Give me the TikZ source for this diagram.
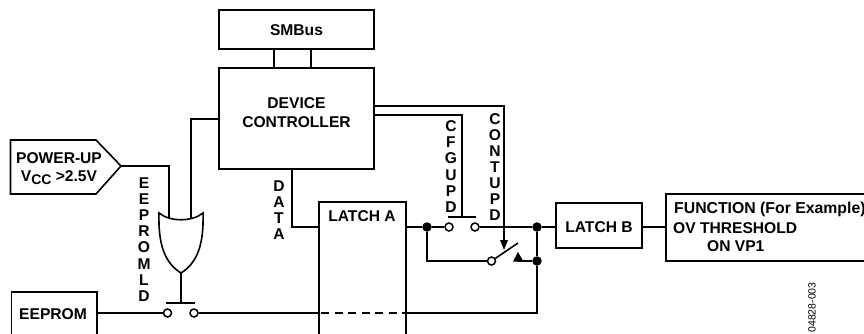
\documentclass[tikz,border=0pt]{standalone}
\usepackage{fontspec}
\setmainfont{Liberation Sans}
\usetikzlibrary{shapes.geometric,calc,positioning,arrows.meta}
\tikzset{
    wire/.style={line width=1.6pt},
    blockbox/.style={draw,line width=1.6pt,fill=white,inner sep=0pt},
    blocktext/.style={inner sep=0pt,align=center,font=\fontsize{15.6}{19}\selectfont\bfseries},
    vlabel/.style={inner sep=0pt,align=center,font=\fontsize{15.6}{16.1}\selectfont\bfseries},
    contact/.style={circle,draw,line width=1.5pt,fill=white,minimum size=8pt,inner sep=0pt},
    joint/.style={circle,fill=black,minimum size=9.5pt,inner sep=0pt}
}
\begin{document}
\begin{tikzpicture}[x=1pt,y=-1pt]
    \useasboundingbox (0,0) rectangle (864,333);
    \clip (0,0) rectangle (864,333);

    % blocks
    \node [blockbox,minimum width=155pt,minimum height=39pt] (smbus) at (296.5,29.5) {};
    \node [blocktext] (smbustxt) at (296.5,30) {SMBus};
    \node [blockbox,minimum width=155pt,minimum height=101pt] (ctrl) at (296.5,118.5) {};
    \node [blocktext] (ctrltxt) at (296.5,112.5) {DEVICE\\CONTROLLER};
    \node [blockbox,minimum width=87pt,minimum height=144pt,anchor=north west,fill=none] (latcha) at (318,201) {};
    \node [blocktext] (latchatxt) at (362,216) {LATCH A};
    \node [blockbox,minimum width=86pt,minimum height=45pt] (latchb) at (599,225.5) {};
    \node [blocktext] (latchbtxt) at (599,227) {LATCH B};
    \node [blockbox,minimum width=198.5pt,minimum height=67pt,anchor=north west] (func) at (665,193) {};
    \node [blockbox,minimum width=85.5pt,minimum height=49pt,anchor=north west] (eeprom) at (10.5,291) {};
    \node [blocktext] (eepromtxt) at (53,314) {EEPROM};

    % power-up flag
    \coordinate (flagtip) at (121,166);
    \draw [wire,fill=white] (10.5,140) -- (96,140) -- (flagtip) -- (96,194) -- (10.5,194) -- cycle;
    \node [blocktext] (powerup) at (59,158) {POWER-UP};
    \node [blocktext] (vcc) at (59,178) {V{\raisebox{-3pt}{\fontsize{14}{14}\selectfont CC}} >2.5V};

    % function text
    \node [blocktext,anchor=west,font=\fontsize{15.8}{19}\selectfont\bfseries] (functxt) at (674,209.5) {FUNCTION (For Example)};
    \node [blocktext,anchor=west] (ovtxt) at (673,228.5) {OV THRESHOLD};
    \node [blocktext,anchor=west] (ontxt) at (707,246.5) {ON VP1};

    % or gate
    \coordinate (orleft) at (159,213);
    \coordinate (orright) at (203,213);
    \coordinate (orout) at (181,273);
    \draw [wire,fill=white] (orleft) .. controls (170,222) and (192,222) .. (orright)
        .. controls (204,245) and (197,263) .. (orout)
        .. controls (165,263) and (158,245) .. (orleft) -- cycle;

    % contacts
    \node [contact] (eesw1) at (167.5,313) {};
    \node [contact] (eesw2) at (194,313) {};
    \node [contact] (cfgsw1) at (449,227) {};
    \node [contact] (cfgsw2) at (475,227) {};
    \node [contact] (consw) at (491.5,261) {};
    \node [joint] (j1) at (427,227) {};
    \node [joint] (j2) at (537,227) {};
    \node [joint] (j3) at (537,261) {};

    \coordinate (eebarl) at (166,303);
    \coordinate (eebarr) at (195,303);
    \coordinate (cfgbarl) at (448,217);
    \coordinate (cfgbarr) at (476,217);
    \coordinate (contipe) at (518,243);
    \coordinate (conend) at (504,250);
    \coordinate (tri) at (518,261);

    % wires
    \draw [wire] (274,49) -- (274,68);
    \draw [wire] (311,49) -- (311,68);
    \draw [wire] (flagtip) -- (169,166) -- (169,217.5);
    \draw [wire] (219,119) -- (191,119) -- (191,217.5);
    \draw [wire] (orout) -- (181,303);
    \draw [wire] (eebarl) -- (eebarr);
    \draw [wire] (eeprom.east |- eesw1) -- (eesw1);
    \draw [wire] (eesw2) -- (318,313);
    \draw [wire,dash pattern=on 8pt off 5.5pt] (321,313) -- (405,313);
    \draw [wire] (405,313) -- (537,313) -- (j3);
    \draw [wire] (292,169) -- (292,227) -- (318,227);
    \draw [wire] (405,227) -- (j1) -- (cfgsw1);
    \draw [wire] (cfgsw2) -- (j2) -- (556,227);
    \draw [wire] (642,227) -- (665,227);
    \draw [wire] (j1) -- (427,261) -- (consw);
    \draw [wire] (j2) -- (j3) -- (tri);
    \draw [wire] (consw) -- (contipe);
    \draw [wire] (cfgbarl) -- (cfgbarr);
    \draw [wire] (374,115) -- (462,115) -- (462,217);
    \draw [wire] (374,106) -- (504,106) -- (504,240);
    \fill (500,240) -- (508,240) -- (conend) -- cycle;
    \fill (513,261.5) -- (523.5,261.5) -- (518,252) -- cycle;

    % labels
    \node [vlabel] (eeld) at (144,239.5) {E\\E\\P\\R\\O\\M\\L\\D};
    \node [vlabel] (data) at (279,210) {D\\A\\T\\A};
    \node [vlabel] (cfgupd) at (451,166.5) {C\\F\\G\\U\\P\\D};
    \node [vlabel] (contupd) at (495,167) {C\\O\\N\\T\\U\\P\\D};
    \node [rotate=90,font=\fontsize{10.5}{12}\selectfont,inner sep=0pt] (figno) at (812,307.5) {04828-003};
\end{tikzpicture}
\end{document}
